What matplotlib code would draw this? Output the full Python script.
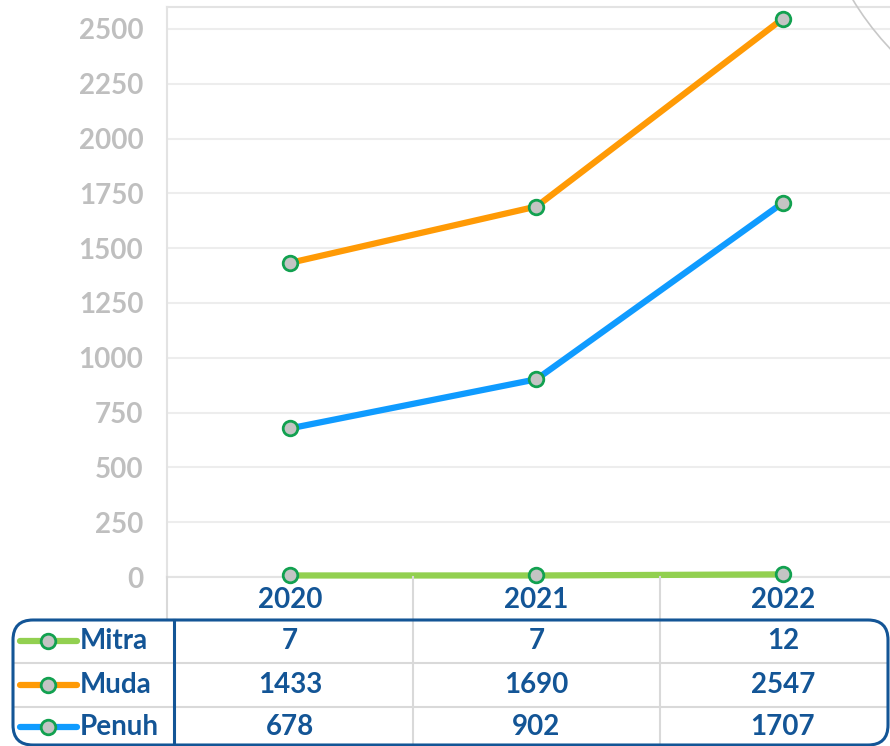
import matplotlib
matplotlib.use("Agg")
import matplotlib.pyplot as plt
from matplotlib.patches import FancyBboxPatch, Arc
from matplotlib.transforms import blended_transform_factory

# ---- data ----
years = ["2020", "2021", "2022"]
series_names = ["Mitra", "Muda", "Penuh"]
mitra = [7, 7, 12]
muda = [1433, 1690, 2547]
penuh = [678, 902, 1707]
series_values = [mitra, muda, penuh]
series_colors = ["#92D050", "#FF9A05", "#0F9BFF"]
y_ticks = [0, 250, 500, 750, 1000, 1250, 1500, 1750, 2000, 2250, 2500]

# ---- style ----
FONT = "Lato"
FS = 20
TICK_COLOR = "#BFBFBF"
TEXT_COLOR = "#135596"
GRID_COLOR = "#EDEDED"
TABLE_GRID = "#D9D9D9"
MARKER_EDGE = "#12A150"
MARKER_FACE = "#C4C4C4"

W, H = 890, 746
fig = plt.figure(figsize=(W / 100, H / 100), dpi=100)

# main plot area (extends beyond the right edge, as in the reference)
ax = fig.add_axes([167 / W, (H - 577) / H, 739 / W, 570 / H])
ax.patch.set_alpha(0)
x = list(range(len(years)))
ax.set_xlim(-0.5, len(years) - 0.5)
ax.set_ylim(0, 2600)
ax.set_yticks(y_ticks)
ax.set_yticklabels([str(t) for t in y_ticks], fontsize=FS, fontweight="bold",
                   color=TICK_COLOR, family=FONT)
ax.tick_params(axis="y", length=0, pad=17)
ax.set_xticks([])
ax.grid(axis="y", color=GRID_COLOR, lw=1.5)
ax.set_axisbelow(True)
for side in ["left", "top", "bottom"]:
    ax.spines[side].set_color("#E3E3E3")
    ax.spines[side].set_linewidth(1.5)
ax.spines["right"].set_visible(False)

for vals, col in zip(series_values, series_colors):
    ax.plot(x, vals, color=col, lw=4.5, solid_capstyle="butt", zorder=3, clip_on=False)
    ax.plot(x, vals, ls="none", marker="o", ms=10.5, mfc=MARKER_FACE, mec=MARKER_EDGE,
            mew=2.0, zorder=4, clip_on=False)

# ---- overlay in pixel coordinates for the data table ----
ov = fig.add_axes([0, 0, 1, 1], zorder=5)
ov.set_xlim(0, W)
ov.set_ylim(H, 0)
ov.axis("off")
ov.patch.set_alpha(0)

# column centres follow the category axis
colT = blended_transform_factory(ax.transData, ov.transData)

# table grid lines
for yy in [663, 707]:
    ov.plot([14, 888], [yy, yy], color=TABLE_GRID, lw=1.5, zorder=1)
for i in range(len(years) - 1):
    ov.plot([i + 0.5, i + 0.5], [577, 746], color=TABLE_GRID, lw=1.5,
            transform=colT, zorder=1)
ov.plot([167, 167], [577, 620], color=TABLE_GRID, lw=1.5, zorder=1)

# rounded border around the series rows
box = FancyBboxPatch((13, 620), 875, 125, boxstyle="round,pad=0,rounding_size=20",
                     fill=False, ec=TEXT_COLOR, lw=2.2, zorder=3)
ov.add_patch(box)
ov.plot([174, 174], [620, 746], color=TEXT_COLOR, lw=2.2, zorder=3)

# header row (years)
for i, yr in enumerate(years):
    ov.text(i, 600, yr, transform=colT, ha="center", va="center", fontsize=FS,
            fontweight="bold", color=TEXT_COLOR, family=FONT)

# series rows
row_y = [641, 685, 727]
for ry, name, vals, col in zip(row_y, series_names, series_values, series_colors):
    ov.plot([20, 77], [ry, ry], color=col, lw=4.5, solid_capstyle="round", zorder=4)
    ov.plot([48], [ry], marker="o", ms=10.5, mfc=MARKER_FACE, mec=MARKER_EDGE,
            mew=2.0, zorder=5)
    ov.text(80, ry, name, ha="left", va="center", fontsize=FS, fontweight="bold",
            color=TEXT_COLOR, family=FONT)
    for i, v in enumerate(vals):
        ov.text(i, ry, str(v), transform=colT, ha="center", va="center", fontsize=FS,
                fontweight="bold", color=TEXT_COLOR, family=FONT)

# decorative arc in top-right corner
ov.add_patch(Arc((1100, -150), 578, 578, theta1=90, theta2=270, color="#C8C8C8", lw=1.2))

fig.savefig("out.png", dpi=100)
